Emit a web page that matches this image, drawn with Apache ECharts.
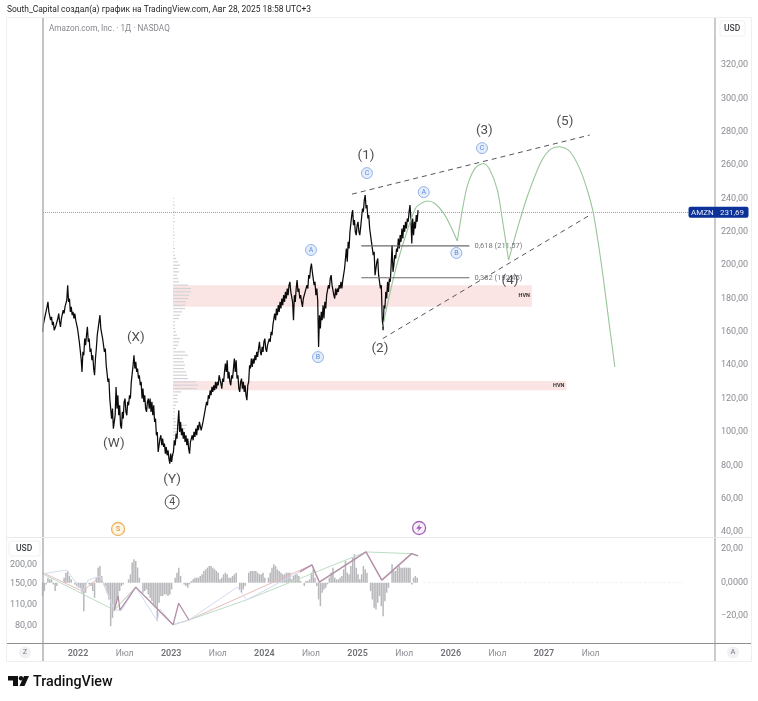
<!DOCTYPE html>
<html>
<head>
<meta charset="utf-8">
<title>AMZN</title>
<script src="https://cdn.jsdelivr.net/npm/echarts@6/dist/echarts.min.js"></script>
<style>
  html, body { margin: 0; padding: 0; background: #fff; }
  #main { width: 758px; height: 701px; }
</style>
</head>
<body>
<div id="main"></div>
<script>
// weekly ranges, first week is mid Aug 2021
const firstWeek = 2021.62;
const weeklyLow = [
  160,164,170,172,167,164,161,160,164,166, 163,168,171,174,178,172,170,168,167,162,
  154,144,136,146,152,154,148,143,138,134, 150,158,162,156,148,140,130,120,108,102,
  103,114,110,104,102,108,112,110,116,120, 130,138,136,132,128,120,118,114,112,114,
  112,110,106,98,88,89,92,91,87,86, 84,81,82,88,92,96,100,98,96,94,
  92,90,87,93,95,97,98,101,101,101, 106,112,116,120,122,124,125,126,128,129,
  126,130,136,132,130,128,132,136,132,126, 124,126,124,122,119,130,138,139,141,143,
  145,148,146,148,150,148,152,154,158,165, 167,170,172,174,176,178,180,182,184,178,
  167,178,184,180,178,175,180,184,186,192, 196,188,182,179,151,162,167,168,174,182,
  186,188,182,180,182,184,186,186,192,198, 202,210,220,224,220,218,220,218,224,232,
  234,228,222,214,206,194,194,194,186,168, 161,174,180,184,190,196,200,204,208,210,
  214,216,220,222,226,228,213,218,222,226
];
const weeklyHigh = [
  165,170,175,178,172,169,166,164,168,171, 168,173,175,179,188,180,175,172,171,168,
  162,154,148,156,158,163,156,150,146,144, 158,166,170,163,156,150,140,132,120,114,
  110,127,122,116,112,118,120,118,122,130, 140,146,142,138,134,130,126,122,118,120,
  120,118,116,108,100,96,98,96,93,91, 89,87,86,95,99,105,113,106,102,100,
  98,96,94,98,100,102,104,106,107,106, 112,118,122,125,127,128,130,130,134,135,
  132,136,141,143,136,134,138,144,143,134, 130,132,130,128,128,140,144,144,146,148,
  150,154,151,154,156,152,156,160,164,171, 174,176,178,180,182,184,186,188,190,184,
  182,186,191,186,182,180,184,188,194,198, 201,196,190,186,170,172,176,178,182,188,
  192,194,188,186,186,188,190,191,198,210, 214,220,230,233,227,224,226,223,234,239,
  242,236,230,222,214,208,202,204,194,188, 176,184,190,192,200,212,206,210,216,218,
  222,224,226,228,232,236,228,226,230,233
];
const lastPrice = 231.69;

// green projection, one arc per wave
const projArc1 = [[2025.27,163],[2025.35,184],[2025.43,202],[2025.54,222],[2025.62,234],[2025.67,236.6],[2025.75,238.5],[2025.83,237],[2025.93,230.6],[2026.01,222],[2026.07,214.5]];
const projArc2 = [[2026.07,214.5],[2026.13,235],[2026.18,248],[2026.26,258],[2026.35,261],[2026.42,257],[2026.50,245],[2026.56,225],[2026.62,203]];
const projArc3 = [[2026.62,203],[2026.71,221],[2026.82,241],[2026.96,261],[2027.06,269],[2027.17,271],[2027.28,268],[2027.39,257],[2027.47,244],[2027.53,231],[2027.62,199],[2027.69,169],[2027.76,139]];

const channelTop = [[2024.94,242.6],[2027.49,278]];
const channelBottom = [[2025.27,156],[2027.51,230.6]];

const fibLevels = [
  { price: 211.57, text: '0,618 (211,57)' },
  { price: 192.45, text: '0,382 (192,45)' }
];
const fibStart = 2025.04, fibEnd = 2026.2;

const hvnZones = [
  { from: 2023.02, to: 2026.87, low: 175, high: 188 },
  { from: 2023.02, to: 2027.24, low: 125, high: 130.5 }
];

const waveLabels = [
  [2025.09,266.6,'(1)'],[2026.36,281.6,'(3)'],[2027.225,287,'(5)'],[2025.24,150.9,'(2)'],
  [2026.635,191.7,'(4)'],[2022.62,157.5,'(X)'],[2022.385,94,'(W)'],[2023.01,72.4,'(Y)']
];
const subLabels = [
  [2024.50,209.1,'A'],[2024.575,144.9,'B'],[2025.10,255.2,'C'],
  [2025.71,243.8,'A'],[2026.06,207.3,'B'],[2026.335,270.2,'C']
];

// volume profile, from 240 down to 86 in steps of 2
const profileTop = 240, profileStep = 2, profileStart = 2023.02;
const profileVolume = [
  1,1,2,1,2,2,1,2,1, 1,1,2,1,1,1,2,1,2,3,
  5,7,5,6,4,5,6,15,18,18, 16,15,13,12,12,9,7,6,2,2,
  2,3,4,7,6,5,3,12,15,10, 11,12,11,13,14,15,23,25,24,8,
  5,4,5,3,2,2,1,2,3,14, 12,5,4,2,2,1,1,1,1
];

// lower pane histogram, same weeks as the price
const histogram = [
  -8,-5,-1,3,2,2,-1,-5,-2,0, 0,0,3,6,7,4,2,0,-1,-2,
  -3,-3,-6,-17,-6,0,-1,-2,-5,-9, 3,9,10,4,0,-2,-6,-10,-26,-21,
  -17,-13,-9,-5,-2,-1,0,0,2,5, 12,14,13,9,3,0,-6,-5,-4,-7,
  -9,-11,-13,-15,-23,-12,-8,-8,-7,-7, -8,-7,-4,0,3,6,9,4,0,-1,
  -2,-3,-1,1,2,3,3,3,4,5, 7,8,9,10,10,9,8,7,6,2,
  3,5,6,5,3,3,4,5,6,0, -4,-6,-4,-2,0,6,7,7,7,7,
  6,5,5,6,3,0,3,6,9,11, 10,8,7,6,5,5,6,6,6,2,
  4,5,5,4,1,0,-2,1,1,2, 6,8,3,-2,-10,-14,-6,-4,-3,-1,
  3,6,9,3,2,2,3,4,8,13, 6,5,10,15,17,9,5,2,5,10,
  8,6,0,-5,-10,-15,-16,-12,-8,-14, -20,-11,-6,-3,0,11,7,7,9,10,
  9,9,9,9,9,9,-1,3,4,3
];

// zigzags in the lower pane, left scale
const zigMauveEarly = [[2022.39,101],[2022.43,125],[2022.45,101],[2022.62,143],[2023.02,81],[2023.08,112],[2023.19,87]];
const zigMauveLate = [[2024.38,180],[2024.51,200],[2024.59,154],[2025.09,243],[2025.26,159],[2025.58,237],[2025.65,229]];
const zigRed = [[2021.62,178],[2022.05,134],[2022.24,169],[2022.39,101],[2022.62,143],[2023.02,81],[2023.19,87],[2024.51,200]];
const zigGreen = [[2021.62,175],[2022.39,101],[2022.62,143],[2023.02,81],[2023.19,87],[2023.81,118],[2025.09,243],[2025.58,237],[2025.65,229]];
const zigBlue = [[2021.62,175],[2021.88,185],[2022.05,134],[2022.11,159],[2022.24,169],[2022.39,101],[2022.47,101],[2022.62,143],[2022.85,86],[2022.88,103],[2023.02,81],[2023.19,87],[2023.71,143],[2023.81,118],[2024.38,180]];

const yearTicks = [2022,2022.5,2023,2023.5,2024,2024.5,2025,2025.5,2026,2026.5,2027,2027.5];
const priceTicks = [40,60,80,100,120,140,160,180,200,220,240,260,280,300,320];
const usdTicks = [80,110,150,200];
const oscTicks = [-20,0,20];

const weekYear = i => firstWeek + i / 52;
const comma = v => v.toFixed(2).replace('.', ',');

// each week runs low to high on the way up and high to low on the way down
const priceLine = [];
weeklyLow.forEach((low, i) => {
  const high = weeklyHigh[i];
  const next = i + 1 < weeklyLow.length ? weeklyLow[i + 1] + weeklyHigh[i + 1] : low + high;
  const up = next >= low + high;
  priceLine.push([weekYear(i), up ? low : high]);
  priceLine.push([weekYear(i) + 0.5 / 52, up ? high : low]);
});

const xMin = 2021.6245, xMax = 2028.835;
const font = 'Roboto, "Noto Sans", sans-serif';
const grey = '#8a8c92';
const bolt = 'path://M6 0 L1 7 L4.5 7 L3 12 L9 4.6 L5.4 4.6 Z';

function lineSeries(data, color, width, extra) {
  return Object.assign({
    type: 'line', data, xAxisIndex: 0, yAxisIndex: 0, symbol: 'none', silent: true,
    lineStyle: { color, width }, animation: false
  }, extra);
}

function lowerLine(data, color, width) {
  return lineSeries(data, color, width, { xAxisIndex: 1, yAxisIndex: 2, z: 4 });
}

const myChart = echarts.init(document.getElementById('main'));
const option = {
  animation: false,
  backgroundColor: '#fff',
  textStyle: { fontFamily: font },
  grid: [
    { left: 43, top: 18, width: 672, height: 519 },
    { left: 43, top: 538, width: 672, height: 105 }
  ],
  xAxis: [
    { type: 'value', gridIndex: 0, min: xMin, max: xMax, axisLine: { show: false }, axisTick: { show: false }, axisLabel: { show: false }, splitLine: { show: false } },
    {
      type: 'value', gridIndex: 1, min: xMin, max: xMax, splitLine: { show: false },
      axisLine: { show: false }, axisTick: { show: false },
      axisLabel: {
        customValues: yearTicks, margin: 6,
        formatter: v => Number.isInteger(v) ? '{y|' + v + '}' : '{m|Июл}',
        rich: {
          y: { fontFamily: font, fontSize: 9, fontWeight: 600, color: '#6f7176' },
          m: { fontFamily: font, fontSize: 8.5, color: grey }
        }
      }
    }
  ],
  yAxis: [
    {
      type: 'value', gridIndex: 0, position: 'right', min: 37, max: 348.2,
      axisLine: { show: false }, axisTick: { show: false }, splitLine: { show: false },
      axisLabel: { customValues: priceTicks, margin: 6, color: grey, fontSize: 9, padding: [2, 0, 0, 0], formatter: comma }
    },
    {
      type: 'value', gridIndex: 1, position: 'right', min: -36, max: 26.7,
      axisLine: { show: false }, axisTick: { show: false }, splitLine: { show: false },
      axisLabel: {
        customValues: oscTicks, margin: 6, color: grey, fontSize: 9, padding: [2, 0, 0, 0],
        formatter: v => v === 0 ? '0,0000' : comma(v).replace('-', '−')
      }
    },
    {
      type: 'log', logBase: Math.E, gridIndex: 1, position: 'left', min: 61.5, max: 300,
      axisLine: { show: false }, axisTick: { show: false }, splitLine: { show: false },
      axisLabel: { customValues: usdTicks, margin: 6, color: grey, fontSize: 9, padding: [2, 0, 0, 0], formatter: comma }
    }
  ],
  series: [
    lineSeries(priceLine, '#0b0b0b', 1.25, {
      z: 5,
      markLine: {
        silent: true, symbol: 'none', label: { show: false },
        lineStyle: { color: '#8ea5aa', type: 'dotted', width: 1 },
        data: [{ yAxis: lastPrice }]
      },
      markArea: {
        silent: true, z: 1,
        itemStyle: { color: 'rgba(247,196,196,0.45)' },
        label: { show: true, position: 'insideRight', distance: 2, formatter: 'HVN', fontSize: 5.5, fontWeight: 'bold', color: '#333' },
        data: hvnZones.map(z => [{ xAxis: z.from, yAxis: z.low }, { xAxis: z.to, yAxis: z.high }])
      }
    }),
    {
      // volume profile
      type: 'custom', xAxisIndex: 0, yAxisIndex: 0, silent: true, z: 3,
      data: profileVolume.map((v, i) => [v, profileTop - i * profileStep]),
      renderItem: (params, api) => {
        const a = api.coord([profileStart, api.value(1)]);
        const b = api.coord([profileStart + api.value(0) / 93.2, api.value(1)]);
        return { type: 'rect', shape: { x: a[0], y: a[1] - 0.6, width: b[0] - a[0], height: 1.2 }, style: { fill: '#d3d3d7' } };
      },
      encode: { x: 0, y: 1 }
    },
    lineSeries(projArc1, '#9ac59a', 1.1, { smooth: 0.3, z: 6 }),
    lineSeries(projArc2, '#9ac59a', 1.1, { smooth: 0.3, z: 6 }),
    lineSeries(projArc3, '#9ac59a', 1.1, { smooth: 0.3, z: 6 }),
    lineSeries(channelTop, '#55575c', 1, { z: 6, lineStyle: { color: '#55575c', width: 1, type: [5, 4] } }),
    lineSeries(channelBottom, '#55575c', 1, { z: 6, lineStyle: { color: '#55575c', width: 1, type: [5, 4] } })
  ].concat(fibLevels.map(f => lineSeries([[fibStart, f.price], [fibEnd, f.price]], '#6a6a6a', 1.2, {
    z: 6,
    endLabel: { show: true, formatter: f.text, color: '#77797e', fontSize: 7.5, distance: 5 }
  }))).concat([
    {
      type: 'scatter', xAxisIndex: 0, yAxisIndex: 0, silent: true, symbolSize: 0, z: 8,
      data: waveLabels,
      label: { show: true, position: 'inside', offset: [0, 1.5], formatter: p => p.data[2], color: '#222226', fontSize: 13.5 }
    },
    {
      type: 'scatter', xAxisIndex: 0, yAxisIndex: 0, silent: true, symbolSize: 11, z: 8,
      data: subLabels,
      itemStyle: { color: '#dce8fb', borderColor: '#5d8fe0', borderWidth: 0.8 },
      label: { show: true, position: 'inside', formatter: p => p.data[2], color: '#3f74d0', fontSize: 7 }
    },
    {
      type: 'scatter', xAxisIndex: 0, yAxisIndex: 0, silent: true, symbolSize: 14, z: 8,
      data: [[2023.01, 58, '4']],
      itemStyle: { color: '#fff', borderColor: '#222226', borderWidth: 1 },
      label: { show: true, position: 'inside', formatter: p => p.data[2], color: '#222226', fontSize: 10.5 }
    },
    {
      type: 'scatter', xAxisIndex: 0, yAxisIndex: 0, silent: true, symbolSize: 13, z: 8,
      data: [[2022.43, 41.8, 'S']],
      itemStyle: { color: '#fdf3dc', borderColor: '#e8a33d', borderWidth: 1.3 },
      label: { show: true, position: 'inside', formatter: p => p.data[2], color: '#d99a2e', fontSize: 7.5, fontWeight: 'bold' }
    },
    {
      type: 'scatter', xAxisIndex: 0, yAxisIndex: 0, silent: true, symbolSize: 13, z: 8,
      data: [[2025.66, 42.4]],
      itemStyle: { color: '#f6ecf8', borderColor: '#8e3fa6', borderWidth: 1.3 }
    },
    {
      type: 'scatter', xAxisIndex: 0, yAxisIndex: 0, silent: true, symbol: bolt, symbolSize: [6, 8], z: 9,
      data: [[2025.66, 42.4]],
      itemStyle: { color: '#8e3fa6' }
    },
    {
      type: 'bar', xAxisIndex: 1, yAxisIndex: 1, silent: true, barWidth: 1.5, z: 2,
      itemStyle: { color: '#b8b8bc' },
      data: histogram.map((v, i) => [weekYear(i), v])
    },
    lineSeries([[2025.7, 0], [2028.5, 0]], '#eeeeee', 0.8, { xAxisIndex: 1, yAxisIndex: 1, lineStyle: { color: '#eeeeee', width: 0.8, type: 'dashed' } }),
    lowerLine(zigRed, '#e6bcbc', 1),
    lowerLine(zigGreen, '#bddcc4', 1),
    lowerLine(zigBlue, '#d3dbf0', 1),
    lowerLine(zigMauveEarly, '#b48fa8', 1.3),
    lowerLine(zigMauveLate, '#b48fa8', 1.5)
  ]),
  graphic: []
};
myChart.setOption(option);

// frame, captions and the price tag, these are chrome and sit at fixed spots
const tagY = myChart.convertToPixel({ yAxisIndex: 0 }, lastPrice);
const vline = (x, y1, y2, stroke, lw) => ({ type: 'line', shape: { x1: x, y1: y1, x2: x, y2: y2 }, style: { stroke, lineWidth: lw }, z: 20 });
const hline = (y, x1, x2, stroke, lw) => ({ type: 'line', shape: { x1: x1, y1: y, x2: x2, y2: y }, style: { stroke, lineWidth: lw }, z: 20 });
const text = (x, y, t, size, color, extra, z) => ({
  type: 'text', x, y, z: z || 22,
  style: Object.assign({ text: t, fontSize: size, fill: color, fontFamily: font, textVerticalAlign: 'middle' }, extra)
});

myChart.setOption({
  graphic: [
    { type: 'rect', shape: { x: 6.5, y: 17.5, width: 745, height: 644 }, style: { fill: 'none', stroke: '#efeff1', lineWidth: 1 }, z: 0 },
    vline(43, 18, 661, '#a9abaf', 1.4),
    vline(715, 18, 661, '#b3b5b9', 1.4),
    hline(537.5, 7, 751, '#e9e9eb', 1),
    hline(643.5, 7, 751, '#8d8f93', 1),
    text(7, 10, 'South_Capital создал(а) график на TradingView.com, Авг 28, 2025 18:58 UTC+3', 8.45, '#26272b'),
    text(49, 28.5, 'Amazon.com, Inc. · 1Д · NASDAQ', 8.2, '#85878c'),
    { type: 'rect', shape: { x: 720, y: 21, width: 25, height: 15, r: 2 }, style: { fill: '#fff', stroke: '#f0f0f2' }, z: 21 },
    text(724, 29, 'USD', 8.5, '#44464b', { fontWeight: 500 }),
    { type: 'rect', shape: { x: 9, y: 541, width: 31, height: 15, r: 2 }, style: { fill: '#fff', stroke: '#f0f0f2' }, z: 21 },
    text(16, 549, 'USD', 8.5, '#44464b', { fontWeight: 500 }),
    { type: 'circle', shape: { cx: 25, cy: 652.5, r: 6 }, style: { fill: '#f1f1f3' }, z: 21 },
    text(25, 652.5, 'Z', 7.5, '#77797e', { textAlign: 'center' }),
    { type: 'circle', shape: { cx: 733, cy: 652.5, r: 6 }, style: { fill: '#f1f1f3' }, z: 21 },
    text(733, 652.5, 'A', 7.5, '#77797e', { textAlign: 'center' }),
    { type: 'rect', shape: { x: 688.5, y: tagY - 5.5, width: 60, height: 11, r: 2 }, style: { fill: '#0c3299' }, z: 23 },
    text(691, tagY + 0.5, 'AMZN', 8, '#e8edf9', {}, 24),
    text(720, tagY + 0.5, comma(lastPrice), 8, '#e8edf9', {}, 24),
    // logo
    { type: 'polygon', shape: { points: [[8,676],[18,676],[18,686],[13,686],[13,680.5],[8,680.5]] }, style: { fill: '#111' }, z: 22 },
    { type: 'circle', shape: { cx: 21, cy: 678.2, r: 2.2 }, style: { fill: '#111' }, z: 22 },
    { type: 'polygon', shape: { points: [[24,676],[29,676],[24.5,686],[19.5,686]] }, style: { fill: '#111' }, z: 22 },
    text(33, 682, 'TradingView', 14.3, '#111', { fontWeight: 500 })
  ]
});
</script>
</body>
</html>
